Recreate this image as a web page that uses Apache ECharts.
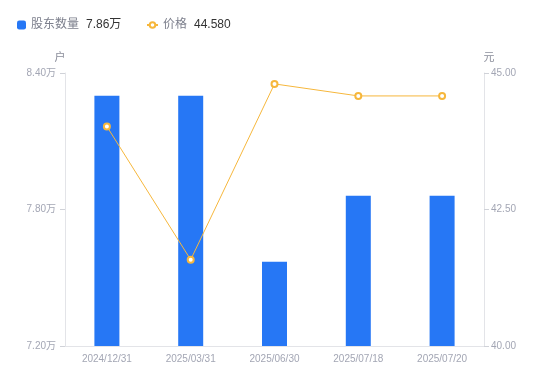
<!DOCTYPE html>
<html>
  <head>
    <title></title>
    <meta charset="UTF-8" />
    <script src="https://cdn.jsdelivr.net/npm/echarts@6/dist/echarts.min.js"></script>
    <style>
      html, body { margin: 0; padding: 0; background: #fff; }
    </style>
  </head>
  <body>
    <div id="main"></div>
    <script>
      const width = 550;
      const height = 381;
      const main = document.getElementById('main');
      main.style.width = `${width}px`;
      main.style.height = `${height}px`;

      const dates = ['2024/12/31', '2025/03/31', '2025/06/30', '2025/07/18', '2025/07/20'];
      const holders = [8.30, 8.30, 7.57, 7.86, 7.86]; // 万户
      const prices = [44.02, 41.58, 44.80, 44.58, 44.58]; // 元
      const legendValues = { '股东数量': '7.86万', '价格': '44.580' };

      const axisLabelColor = '#a3a6b4';
      const axisLineColor = '#e3e4e8';
      const font = 'Liberation Sans, Noto Sans CJK SC, sans-serif';

      const legendText = {
        rich: {
          n: { color: '#7c7f8c', fontSize: 12, fontFamily: font, padding: [0, 7, 0, 0] },
          v: { color: '#333', fontSize: 12, fontFamily: font }
        }
      };

      const myChart = echarts.init(main);
      const option = {
        animation: false,
        textStyle: { fontFamily: font },
        legend: [
          {
            left: 12,
            top: 14,
            itemWidth: 9,
            itemHeight: 9,
            data: [{ name: '股东数量', icon: 'roundRect' }],
            formatter: name => `{n|${name}}{v|${legendValues[name]}}`,
            textStyle: legendText
          },
          {
            left: 141,
            top: 14,
            itemWidth: 11,
            itemHeight: 7,
            data: [{ name: '价格' }],
            formatter: name => `{n|${name}}{v|${legendValues[name]}}`,
            textStyle: legendText
          }
        ],
        grid: {
          left: 65,
          right: 66,
          top: 73,
          bottom: 35
        },
        xAxis: {
          type: 'category',
          data: dates,
          axisLine: { lineStyle: { color: axisLineColor } },
          axisTick: { show: false },
          axisLabel: { color: axisLabelColor, fontSize: 10, margin: 8 }
        },
        yAxis: [
          {
            type: 'value',
            name: '户',
            min: 7.2,
            max: 8.4,
            interval: 0.6,
            nameGap: 10,
            nameTextStyle: { color: '#8a8d9a', fontSize: 11, padding: [0, 10, 0, 0] },
            axisLine: { show: true, lineStyle: { color: axisLineColor } },
            axisTick: { show: true, length: 5, lineStyle: { color: '#d0d2d8' } },
            splitLine: { show: false },
            axisLabel: {
              color: axisLabelColor,
              fontSize: 10,
              margin: 9,
              formatter: v => v.toFixed(2) + '万'
            }
          },
          {
            type: 'value',
            name: '元',
            min: 40,
            max: 45,
            interval: 2.5,
            nameGap: 10,
            nameTextStyle: { color: '#8a8d9a', fontSize: 11, padding: [0, 0, 0, 10] },
            axisLine: { show: true, lineStyle: { color: axisLineColor } },
            axisTick: { show: true, length: 5, lineStyle: { color: '#d0d2d8' } },
            splitLine: { show: false },
            axisLabel: {
              color: axisLabelColor,
              fontSize: 10,
              margin: 7,
              formatter: v => v.toFixed(2)
            }
          }
        ],
        series: [
          {
            name: '股东数量',
            type: 'bar',
            yAxisIndex: 0,
            barWidth: 25,
            itemStyle: { color: '#2677f5' },
            data: holders
          },
          {
            name: '价格',
            type: 'line',
            yAxisIndex: 1,
            symbol: 'emptyCircle',
            symbolSize: 6,
            lineStyle: { width: 1, color: '#f6b73c' },
            itemStyle: { color: '#f6b73c', borderWidth: 2 },
            data: prices
          }
        ]
      };
      myChart.setOption(option);
    </script>
  </body>
</html>
